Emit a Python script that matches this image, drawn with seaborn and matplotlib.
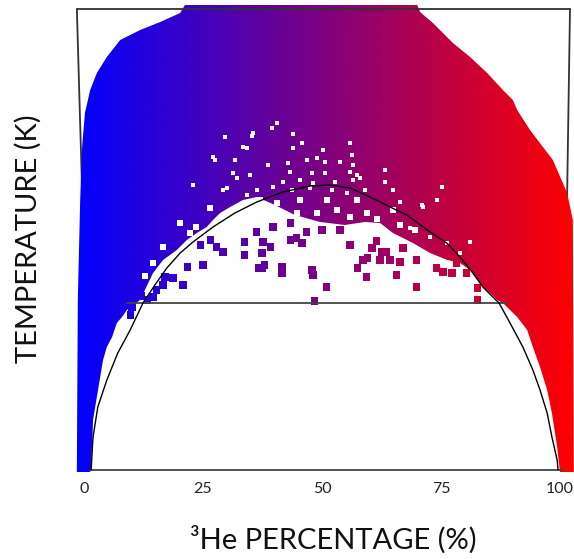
import numpy as np
import matplotlib
matplotlib.use('Agg')
import matplotlib.pyplot as plt
from matplotlib.colors import LinearSegmentedColormap
from matplotlib.path import Path
from matplotlib.patches import PathPatch
import pandas as pd
import seaborn as sns

sns.set_style('white')
plt.rcParams['font.family'] = ['Lato', 'DejaVu Sans']

# x = 3He percentage, t = temperature (arbitrary K scale, no tick labels)
# outer edge of the mixed (single phase) region, left -> top -> right
outer_x = [-1.5, -1.3, -0.8, -0.4, 0.2, 1.3, 2.7, 4.8, 7.6, 11.8, 16.0, 20.2, 21.2, 70.0, 70.6, 73.3,
           77.5, 81.1, 84.7, 88.0, 90.1, 91.0, 93.7, 96.4, 98.5, 101.5, 102.7, 102.9]
outer_t = [-0.01, 0.85, 1.35, 1.615, 1.785, 1.90, 1.985, 2.065, 2.15, 2.20, 2.24, 2.285, 2.325, 2.325, 2.29,
           2.235, 2.135, 2.065, 1.985, 1.90, 1.85, 1.80, 1.70, 1.615, 1.55, 1.385, 1.25, -0.01]

# inner edge (dense region above the separation curve), left -> right
inner_x = [1.3, 1.7, 1.9, 2.7, 3.4, 4.0, 4.8, 5.9, 6.9, 8.0, 9.0, 11.8, 14.5, 16.6, 19.5, 21.6, 23.7, 25.8,
           27.1, 28.6, 30.7, 33.4, 36.3, 40.1, 44.3, 49.6, 54.8, 59.0, 62.2, 64.9, 69.1, 72.7, 76.3, 79.0,
           81.1, 82.6, 83.8, 85.3, 86.8, 88.0, 89.5, 91.0, 93.1, 94.3, 95.8, 97.3, 98.3, 99.4, 100.0]
inner_t = [-0.01, 0.115, 0.25, 0.365, 0.465, 0.55, 0.615, 0.665, 0.735, 0.765, 0.80, 0.85, 0.985, 1.05, 1.10,
           1.15, 1.185, 1.215, 1.25, 1.285, 1.315, 1.35, 1.365, 1.325, 1.275, 1.24, 1.225, 1.24, 1.235, 1.185,
           1.135, 1.085, 1.05, 1.035, 1.00, 0.95, 0.915, 0.885, 0.85, 0.835, 0.80, 0.765, 0.70, 0.615, 0.515,
           0.40, 0.285, 0.115, -0.01]

# phase separation curve
curve_x = [1.5, 1.9, 2.9, 4.8, 7.1, 9.7, 12.4, 14.9, 17.4, 20.2, 22.9, 27.1, 31.7, 36.3, 41.8, 47.5, 51.7,
           55.9, 60.1, 64.3, 67.8, 72.7, 76.2, 79.0, 81.7, 83.8, 85.9, 87.2, 89.5, 92.2, 94.3, 95.8, 97.3,
           98.3, 99.4, 99.6]
curve_t = [0.0, 0.165, 0.315, 0.45, 0.585, 0.70, 0.835, 0.925, 1.01, 1.085, 1.14, 1.215, 1.285, 1.34, 1.39,
           1.42, 1.425, 1.41, 1.365, 1.315, 1.275, 1.19, 1.135, 1.065, 0.985, 0.915, 0.865, 0.835, 0.735,
           0.615, 0.50, 0.40, 0.285, 0.165, 0.05, 0.0]

# horizontal line and frame
line_x = [9.0, 88.8]
line_t = [0.835, 0.835]
frame_x = [-1.5, 102.1]
frame_top = 2.305
frame_bot_x = [1.3, 100.6]

# scattered states below the dense region
sq_x = [21.8, 25.0, 20.8, 18.7, 17.0, 15.3, 14.5, 33.8, 29.2, 27.9, 33.8, 36.6, 26.5, 24.4, 37.6, 39.1, 37.4,
        37.4, 38.0, 41.6, 41.6, 43.3, 44.7, 45.8, 47.9, 48.1, 51.0, 48.5, 55.9, 61.5, 60.5, 62.6, 62.2, 58.6,
        59.6, 57.5, 59.4, 53.8, 50.0, 46.8, 39.7, 36.3, 43.3, 65.7, 69.9, 63.6, 64.3, 67.0, 66.4, 69.9, 74.1,
        75.4, 77.3, 80.4, 82.7, 82.7, 78.3, 9.7, 10.1, 16.6, 13.4, 12.0]
sq_t = [1.015, 1.025, 0.925, 0.96, 0.965, 0.90, 0.865, 1.14, 1.09, 1.115, 1.075, 1.01, 1.15, 1.125, 1.14, 1.115,
        1.085, 1.01, 1.025, 1.015, 0.985, 1.15, 1.16, 1.135, 1.00, 0.975, 0.915, 0.845, 1.125, 1.145, 1.11, 1.09,
        1.05, 1.05, 1.06, 1.01, 0.965, 1.20, 1.20, 1.19, 1.215, 1.19, 1.235, 0.975, 0.915, 1.09, 1.05, 1.11,
        1.04, 1.05, 1.01, 0.99, 0.985, 0.985, 0.91, 0.85, 1.035, 0.775, 0.815, 0.925, 0.85, 0.87]

# empty spots inside the dense region
speck_x = [40.5, 39.5, 43.9, 35.3, 29.6, 45.8, 34.2, 43.9, 50.2, 27.1, 31.7, 38.6, 42.8, 46.8, 48.9, 50.6, 53.8,
           31.3, 34.9, 43.3, 47.9, 50.6, 55.9, 32.1, 41.8, 45.4, 48.1, 52.7, 56.5, 29.2, 36.3, 39.7, 43.7, 47.5,
           52.1, 22.9, 34.2, 55.2, 55.9, 56.3, 56.5, 63.2, 57.3, 58.0, 63.2, 59.0, 64.9, 75.2, 66.4, 71.0, 74.1,
           27.5, 35.5, 33.4, 30.0, 71.2, 76.2, 79.0, 81.1, 68.5, 72.7]
speck_t = [1.735, 1.71, 1.68, 1.67, 1.665, 1.635, 1.61, 1.61, 1.60, 1.565, 1.55, 1.525, 1.535, 1.55, 1.56, 1.54,
           1.54, 1.485, 1.475, 1.49, 1.485, 1.485, 1.49, 1.46, 1.44, 1.45, 1.435, 1.44, 1.45, 1.40, 1.40, 1.415,
           1.40, 1.41, 1.40, 1.425, 1.375, 1.385, 1.635, 1.575, 1.525, 1.50, 1.475, 1.46, 1.44, 1.40, 1.40, 1.415,
           1.34, 1.325, 1.35, 1.55, 1.685, 1.615, 1.41, 1.315, 1.135, 1.085, 1.14, 1.21, 1.165]
gap_x = [37.0, 40.5, 39.7, 44.7, 45.4, 48.9, 51.0, 53.1, 55.9, 57.3, 59.4, 61.5, 64.9, 66.4, 69.5, 20.2, 22.3,
         16.6, 14.5, 12.8, 26.5, 23.5]
gap_t = [1.35, 1.335, 1.265, 1.285, 1.35, 1.285, 1.35, 1.30, 1.265, 1.35, 1.285, 1.255, 1.30, 1.225, 1.20, 1.235,
         1.185, 1.115, 1.035, 0.97, 1.31, 1.215]

x_lo, x_hi = -1.68, 102.94
t_lo, t_hi = -0.01, 2.33

cmap = LinearSegmentedColormap.from_list('he3', ['#0000ff', '#ff0000'])

fig = plt.figure(figsize=(5.74, 5.59), dpi=100)
ax = fig.add_axes([76 / 574, 1 - 472 / 559, 498 / 574, 468 / 559])

# frame sides (hidden under the coloured region)
ax.plot([frame_x[0], frame_bot_x[0]], [frame_top, 0], color='#333333', lw=1.3, zorder=0.5)
ax.plot([frame_x[1], frame_bot_x[1]], [frame_top, 0], color='#333333', lw=1.3, zorder=0.5)

# coloured region: horizontal gradient clipped to the region outline
region = np.column_stack([outer_x + inner_x[::-1], outer_t + inner_t[::-1]])
region = np.vstack([region, region[:1]])
patch = PathPatch(Path(region, closed=True), facecolor='none', edgecolor='none', transform=ax.transData)
ax.add_patch(patch)
grad = np.tile(np.linspace(x_lo, x_hi, 500), (2, 1))
im = ax.imshow(grad, extent=[x_lo, x_hi, t_lo, t_hi], origin='lower', aspect='auto',
               cmap=cmap, vmin=x_lo, vmax=x_hi, interpolation='bilinear', zorder=1)
im.set_clip_path(patch)

speck = pd.DataFrame({'x': speck_x, 't': speck_t})
gap = pd.DataFrame({'x': gap_x, 't': gap_t})
sq = pd.DataFrame({'x': sq_x, 't': sq_t})
sns.scatterplot(data=speck, x='x', y='t', color='white', marker='s', s=7, linewidth=0, ax=ax, zorder=2)
sns.scatterplot(data=gap, x='x', y='t', color='white', marker='s', s=24, linewidth=0, ax=ax, zorder=2)
sns.scatterplot(data=sq, x='x', y='t', hue='x', palette=cmap, hue_norm=(x_lo, x_hi), marker='s', s=27,
                linewidth=0, legend=False, ax=ax, zorder=3)

# lines on top
ax.plot(frame_x, [frame_top, frame_top], color='#333333', lw=1.3, zorder=5)
ax.plot(frame_bot_x, [0, 0], color='#444444', lw=1.3, zorder=5)
ax.plot(line_x, line_t, color='#444444', lw=1.3, zorder=5)
ax.plot(curve_x, curve_t, color='black', lw=1.0, zorder=6)

ax.set_xlim(x_lo, x_hi)
ax.set_ylim(t_lo, t_hi)
ax.set_xticks([0, 25, 50, 75, 100])
ax.set_yticks([])
ax.tick_params(axis='x', length=0, pad=7, labelsize=11.5, labelcolor='#222222')
sns.despine(ax=ax, left=True, bottom=True)

ax.set_xlabel('³He PERCENTAGE (%)', fontsize=21, color='#111111')
ax.xaxis.set_label_coords(0.516, -0.115)
ax.set_ylabel('TEMPERATURE (K)', fontsize=21, color='#111111')
ax.yaxis.set_label_coords(-0.068, 0.498)

fig.savefig('out.png', dpi=100)
